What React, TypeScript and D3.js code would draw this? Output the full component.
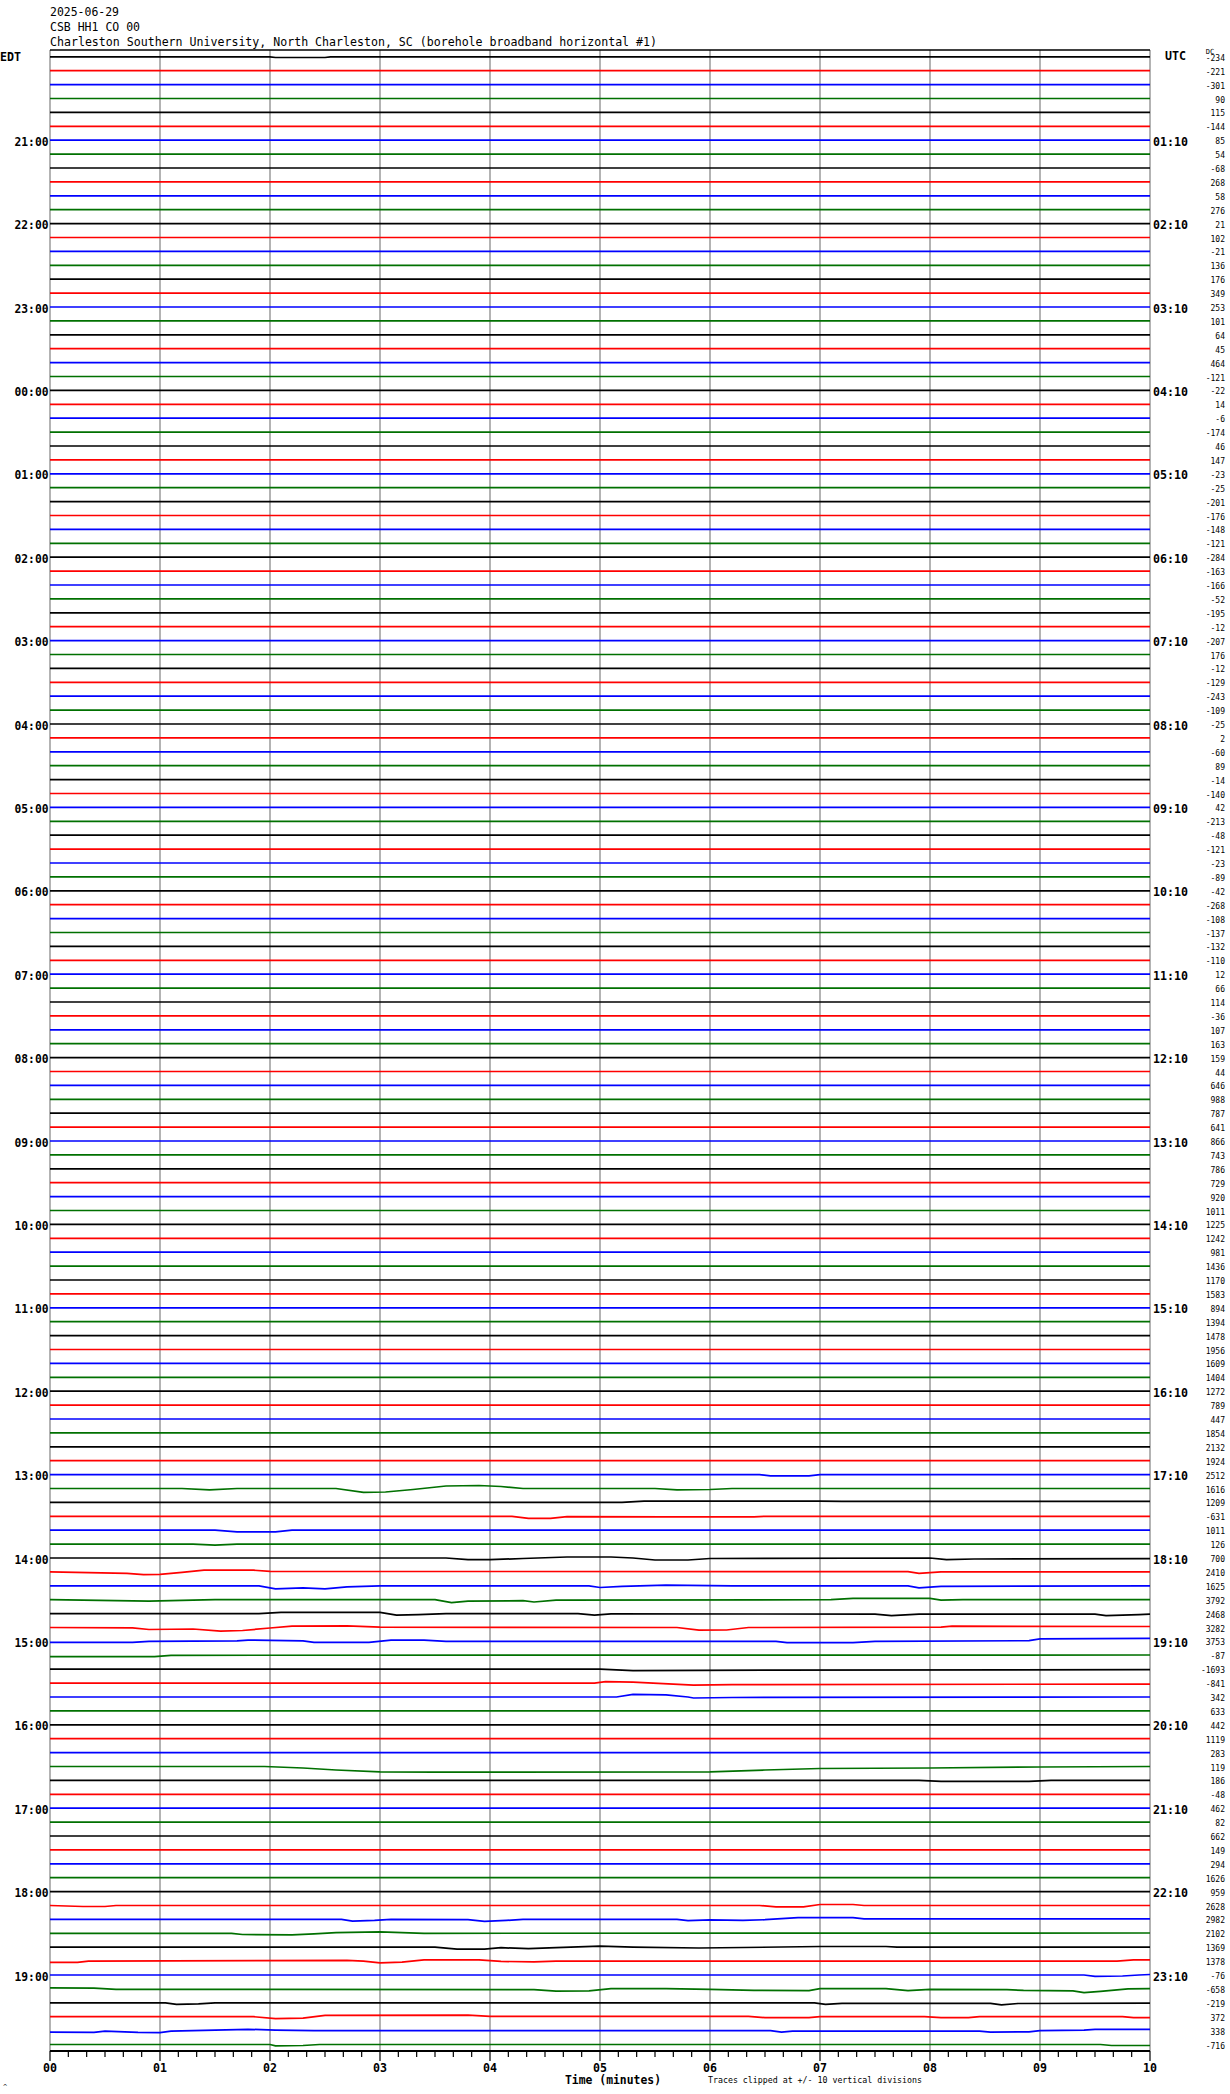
import React from "react";
import * as d3 from "d3";

const dateLabel = "2025-06-29";
const stationLabel = "CSB HH1 CO 00";
const siteLabel =
  "Charleston Southern University, North Charleston, SC (borehole broadband horizontal #1)";
const xAxisTitle = "Time (minutes)";
const clipNote = "Traces clipped at +/- 10 vertical divisions";

const traceColors = ["#000000", "#ff0000", "#0000ff", "#007000"];

const edtHours = [
  "21:00", "22:00", "23:00", "00:00", "01:00", "02:00", "03:00", "04:00",
  "05:00", "06:00", "07:00", "08:00", "09:00", "10:00", "11:00", "12:00",
  "13:00", "14:00", "15:00", "16:00", "17:00", "18:00", "19:00",
];
const utcHours = [
  "01:10", "02:10", "03:10", "04:10", "05:10", "06:10", "07:10", "08:10",
  "09:10", "10:10", "11:10", "12:10", "13:10", "14:10", "15:10", "16:10",
  "17:10", "18:10", "19:10", "20:10", "21:10", "22:10", "23:10",
];
const minuteTicks = ["00", "01", "02", "03", "04", "05", "06", "07", "08", "09", "10"];

// DC offsets printed at the right of every 10-minute line
const dcValues = [
  -234, -221, -301, 90, 115, -144,
  85, 54, -68, 268, 58, 276,
  21, 102, -21, 136, 176, 349,
  253, 101, 64, 45, 464, -121,
  -22, 14, -6, -174, 46, 147,
  -23, -25, -201, -176, -148, -121,
  -284, -163, -166, -52, -195, -12,
  -207, 176, -12, -129, -243, -109,
  -25, 2, -60, 89, -14, -140,
  42, -213, -48, -121, -23, -89,
  -42, -268, -108, -137, -132, -110,
  12, 66, 114, -36, 107, 163,
  159, 44, 646, 988, 787, 641,
  866, 743, 786, 729, 920, 1011,
  1225, 1242, 981, 1436, 1170, 1583,
  894, 1394, 1478, 1956, 1609, 1404,
  1272, 789, 447, 1854, 2132, 1924,
  2512, 1616, 1209, -631, 1011, 126,
  700, 2410, 1625, 3792, 2468, 3282,
  3753, -87, -1693, -841, 342, 633,
  442, 1119, 283, 119, 186, -48,
  462, 82, 662, 149, 294, 1626,
  959, 2628, 2982, 2102, 1369, 1378,
  -76, -658, -219, 372, 338, -716,
];

// Visible slow excursions: [trace index, [minute, amplitude (up = +)]]
const traceFeatures: [number, [number, number][]][] = [
  [0, [[0, 0], [2.0, 0], [2.05, -0.7], [2.5, -0.7], [2.55, 0], [10, 0]]],
  [102, [[0, 0], [6.45, 0], [6.55, -1.3], [6.9, -1.3], [7.0, 0], [10, 0]]],
  [103, [[0, 0], [1.2, 0], [1.45, -1.3], [1.7, 0], [2.6, 0], [2.85, -3.8], [3.05, -3.5], [3.3, -1], [3.6, 2.5], [3.9, 3], [4.1, 2], [4.3, 0], [5.5, 0], [5.7, -1.3], [6.0, -1], [6.2, 0], [10, 0]]],
  [104, [[0, 0], [5.2, 0], [5.4, 1.3], [7.0, 1.2], [7.2, 1], [10, 1]]],
  [105, [[0, 0], [4.2, 0], [4.35, -2], [4.55, -2], [4.7, -0.3], [5.6, -0.6], [6.4, -0.6], [6.5, 0], [10, 0]]],
  [106, [[0, 0], [1.5, 0], [1.7, -1.7], [2.05, -1.7], [2.2, 0], [10, 0]]],
  [107, [[0, 0], [1.3, 0], [1.5, -1], [1.7, 0], [10, 0]]],
  [108, [[0, 0], [3.6, 0], [3.8, -1.7], [4.0, -1.7], [4.3, -0.5], [4.7, 1], [5.1, 1], [5.3, 0], [5.5, -2], [5.8, -2], [6.0, -0.5], [8.0, 0], [8.15, -1.7], [8.4, -1], [10, -0.7]]],
  [109, [[0, 0], [0.7, -1.5], [0.85, -2.7], [1.0, -2.5], [1.2, -0.5], [1.4, 1.7], [1.85, 1.7], [2.0, 0.5], [7.8, 0.2], [7.9, -1.5], [8.1, 0], [10, 0]]],
  [110, [[0, 0], [1.9, 0], [2.05, -3], [2.3, -2], [2.5, -3], [2.7, -1], [3.0, 0], [4.9, 0], [5.0, -1.7], [5.2, -0.5], [5.6, 0.7], [6.2, 0], [7.8, 0], [7.9, -2], [8.1, -0.5], [10, 0]]],
  [111, [[0, 0], [0.9, -1.5], [1.1, -1], [1.5, 0], [3.5, 0], [3.65, -3], [3.8, -1.5], [4.3, -1], [4.4, -2.3], [4.6, -0.5], [7.1, 0], [7.3, 1.3], [8.0, 1.3], [8.1, -0.5], [8.3, 0], [10, 0]]],
  [112, [[0, 0], [1.9, 0], [2.1, 1.3], [3.0, 1.3], [3.15, -1.5], [3.35, -1], [3.6, 0], [4.8, 0], [4.95, -1.5], [5.1, -0.3], [7.5, -0.5], [7.65, -2], [7.9, -0.5], [9.5, -0.5], [9.6, -2], [9.9, -1], [10, -0.5]]],
  [113, [[0, 0], [0.75, -0.3], [0.9, -2], [1.3, -1.5], [1.55, -3.7], [1.75, -3], [2.0, -0.5], [2.2, 1.3], [2.7, 1.7], [3.0, 0.3], [5.7, 0], [5.9, -2.7], [6.15, -2.5], [6.35, 0], [8.1, 0.3], [8.2, 1.3], [10, 1]]],
  [114, [[0, -1], [0.75, -1], [0.9, 0], [1.7, 0.5], [1.8, 1.3], [2.3, 0.5], [2.4, -1], [2.9, -1], [3.1, 1.2], [3.4, 1.2], [3.6, 0], [6.6, 0], [6.7, -1.3], [7.3, -1.3], [7.5, 0], [8.9, 0.7], [9.0, 2.5], [10, 3]]],
  [115, [[0, -1.3], [0.95, -1.3], [1.1, 0], [10, 0.3]]],
  [116, [[0, 0], [5.0, 0], [5.3, -1.5], [6.5, -1], [10, -0.5]]],
  [117, [[0, 0], [4.95, 0], [5.05, 1.5], [5.3, 1], [5.85, -2], [6.2, -1.5], [10, -1]]],
  [118, [[0, 0], [5.15, 0], [5.3, 2.7], [5.6, 2.2], [5.8, 0], [5.85, -1], [6.2, -0.5], [10, 0]]],
  [123, [[0, 0], [1.95, 0], [2.3, -1.5], [2.6, -3.5], [3.0, -5.3], [3.5, -5.7], [6.0, -5.3], [6.5, -3.5], [7.0, -2], [8.0, -1.5], [9.0, -0.5], [10, 0]]],
  [124, [[0, 0], [7.9, 0], [8.1, -1], [8.9, -1], [9.1, 0], [10, 0]]],
  [133, [[0, 0], [0.3, -1], [0.5, -1], [0.6, 0], [6.45, 0], [6.6, -1.3], [6.85, -1.3], [7.0, 1], [7.3, 1], [7.4, 0], [10, 0]]],
  [134, [[0, 0], [2.65, 0], [2.75, -1.7], [2.95, -1], [3.1, 0], [3.8, -0.3], [3.95, -2], [4.15, -1], [4.3, 0], [5.7, 0], [5.8, -1.3], [6.0, -0.5], [6.3, -1], [6.5, -0.3], [6.8, 1.7], [7.3, 1.7], [7.4, 0.5], [10, 0.5]]],
  [135, [[0, 0], [1.65, 0], [1.75, -1.2], [2.2, -1.6], [2.4, -0.5], [2.6, 0.7], [3.0, 1.5], [3.4, 0], [10, 0.3]]],
  [136, [[0, 0], [3.5, 0], [3.7, -2], [3.95, -2], [4.1, -0.5], [4.35, -1.5], [4.6, -0.5], [5.0, 1], [5.3, 0], [5.9, -0.8], [6.3, -0.3], [7.0, 0.7], [7.6, 0.7], [7.7, 0], [10, 0]]],
  [137, [[0, -1.3], [0.25, -1.3], [0.35, 0], [2.7, 0.7], [2.85, 0], [3.0, -1.7], [3.2, -1], [3.4, 1.3], [3.9, 1.3], [4.1, -0.3], [4.4, -0.8], [4.6, 0], [9.7, 0], [9.85, 1.3], [10, 1.3]]],
  [138, [[0, 0], [9.4, 0], [9.5, -1.3], [9.75, -1], [9.9, 0], [10, 0.5]]],
  [139, [[0, 1], [0.4, 0.8], [0.6, -0.5], [4.4, -0.7], [4.6, -2.3], [4.9, -2], [5.1, 0.2], [5.6, 0.2], [6.0, -0.5], [6.4, -1.5], [6.9, -1.7], [7.0, 0.3], [7.6, 0.3], [7.8, -1.7], [8.0, -0.5], [8.7, -0.7], [8.85, -1.5], [9.3, -2], [9.4, -3.7], [9.55, -2.5], [9.8, 0], [10, 0.3]]],
  [140, [[0, 0], [1.05, 0], [1.15, -1.5], [1.35, -1], [1.5, 0], [6.95, 0], [7.05, -1.5], [7.2, -0.5], [8.55, -0.5], [8.65, -2], [8.8, -0.7], [10, -0.3]]],
  [141, [[0, 0], [1.85, 0], [2.05, -2], [2.3, -1.5], [2.5, 1.3], [3.8, 1.5], [4.0, 0.3], [6.35, 0.3], [6.5, -1], [6.9, -1], [7.0, 0], [7.95, 0], [8.1, -1], [8.35, -1], [8.45, 0], [9.75, 0], [9.85, -1], [10, -1]]],
  [142, [[0, -1.5], [0.4, -1.7], [0.5, -0.5], [0.8, -1.8], [1.0, -2], [1.1, -0.5], [1.6, 0.8], [1.8, 1.3], [2.05, 0.5], [2.4, 0], [6.55, 0], [6.65, -1.5], [6.75, -0.5], [8.45, -0.5], [8.55, -1.5], [8.9, -1.3], [9.0, 0], [9.4, 0.5], [9.5, 1.3], [10, 1.3]]],
  [143, [[0, 0], [2.0, 0], [2.05, -1.3], [2.3, -1], [2.45, 0], [9.55, 0], [9.65, -1], [10, -1]]],
];

const MONO = "'DejaVu Sans Mono', 'Liberation Mono', monospace";

export default function App() {
  const W = 1230;
  const H = 2094;
  const left = 50;
  const right = 1150;
  const top = 50;
  const bottom = 2051;
  const nTraces = dcValues.length;

  const x = d3.scaleLinear().domain([0, 10]).range([left, right]);
  const row = d3.scaleLinear().domain([0, nTraces - 1]).range([56.8, 2044.5]);
  const amp = d3.scaleLinear().domain([0, 1]).range([0, -1]);

  const featureMap = new Map<number, [number, number][]>(traceFeatures);
  const flat: [number, number][] = [[0, 0], [10, 0]];

  const traces = dcValues.map((dc, i) => {
    const pts = featureMap.get(i) || flat;
    const y0 = row(i);
    const line = d3
      .line<[number, number]>()
      .x((d) => x(d[0]))
      .y((d) => y0 + amp(d[1]));
    return { i, dc, y0, d: line(pts) || "", color: traceColors[i % 4] };
  });

  const minorTicks = d3.range(0, 61).map((k) => k / 6);

  return (
    <svg
      width={W}
      height={H}
      style={{ position: "absolute", left: 0, top: 0, background: "#fff" }}
      fontFamily={MONO}
    >
      <rect x={0} y={0} width={W} height={H} fill="#fff" />
      {/* header */}
      <text x={50} y={16} fontSize={12} textLength={69} lengthAdjust="spacingAndGlyphs">{dateLabel}</text>
      <text x={50} y={30.5} fontSize={12} textLength={90} lengthAdjust="spacingAndGlyphs">{stationLabel}</text>
      <text x={50} y={46} fontSize={12} textLength={607} lengthAdjust="spacingAndGlyphs">{siteLabel}</text>

      {/* vertical minute grid */}
      {minuteTicks.map((t, k) => (
        <line key={"g" + k} x1={x(k)} x2={x(k)} y1={top} y2={bottom} stroke="#808080" strokeWidth={1.2} />
      ))}
      <line x1={left} x2={right} y1={top} y2={top} stroke="#000" strokeWidth={1.6} />

      {/* traces */}
      {traces.map((t) => (
        <path key={"t" + t.i} d={t.d} fill="none" stroke={t.color} strokeWidth={1.7} />
      ))}

      {/* left/right labels */}
      <text x={0} y={61} fontSize={12} fontWeight="bold" textLength={21} lengthAdjust="spacingAndGlyphs">EDT</text>
      <text x={1165} y={60} fontSize={12} fontWeight="bold" textLength={21} lengthAdjust="spacingAndGlyphs">UTC</text>
      {edtHours.map((h, k) => (
        <text key={"e" + k} x={48.5} y={row(6 * (k + 1)) + 5.5} fontSize={12.5} fontWeight="bold" textAnchor="end" textLength={34} lengthAdjust="spacingAndGlyphs">{h}</text>
      ))}
      {utcHours.map((h, k) => (
        <text key={"u" + k} x={1153} y={row(6 * (k + 1)) + 5.5} fontSize={12.5} fontWeight="bold" textLength={35} lengthAdjust="spacingAndGlyphs">{h}</text>
      ))}
      <text x={1210} y={54} fontSize={7} textAnchor="middle">DC</text>
      {traces.map((t) => (
        <text key={"dc" + t.i} x={1225} y={t.y0 + 4} fontSize={8} textAnchor="end">{t.dc}</text>
      ))}

      {/* bottom axis */}
      <line x1={left} x2={right} y1={bottom} y2={bottom} stroke="#000" strokeWidth={2} />
      {minorTicks.map((m, k) => (
        <line key={"mt" + k} x1={x(m)} x2={x(m)} y1={bottom} y2={bottom + (k % 6 === 0 ? 10 : 6)} stroke="#000" strokeWidth={1.2} />
      ))}
      {minuteTicks.map((t, k) => (
        <text key={"l" + k} x={x(k)} y={2072} fontSize={12.5} fontWeight="bold" textAnchor="middle" textLength={14} lengthAdjust="spacingAndGlyphs">{t}</text>
      ))}
      <text x={565} y={2083.5} fontSize={12} fontWeight="bold" textLength={96} lengthAdjust="spacingAndGlyphs">{xAxisTitle}</text>
      <text x={708} y={2083} fontSize={8} textLength={214} lengthAdjust="spacingAndGlyphs">{clipNote}</text>
      <text x={3} y={2089} fontSize={7}>^</text>
    </svg>
  );
}
